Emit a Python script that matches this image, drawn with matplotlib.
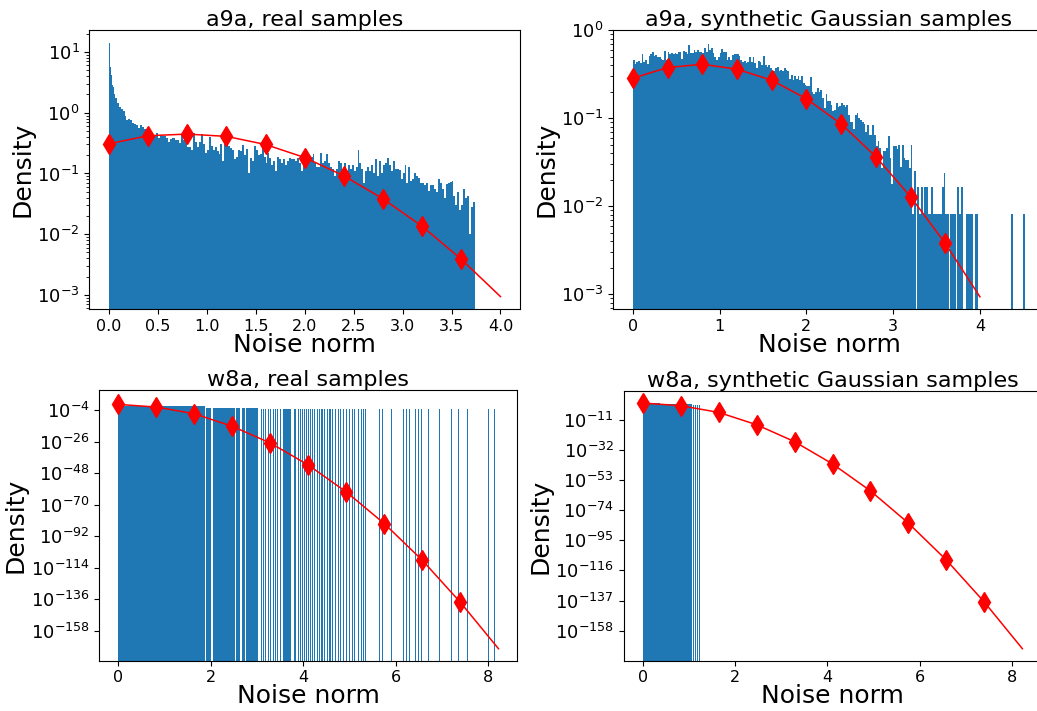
import numpy as np
import matplotlib
matplotlib.use("Agg")
import matplotlib.pyplot as plt
from matplotlib.ticker import NullLocator

# a9a, real samples: histogram (first 6 bins 0.01 wide, then 0.02 wide)
a9a_real_edges = np.concatenate([np.linspace(0.0, 0.05, 6), np.linspace(0.06, 3.74, 185)])
a9a_real_density = [
    14.1, 5.6, 4.2, 2.9, 2.7, 2.0,
    1.75, 1.45, 1.22, 1.14, 1.05, 0.87, 0.77, 0.79, 0.75, 0.68, 0.65, 0.62, 0.56, 0.64,
    0.58, 0.55, 0.52, 0.43, 0.44, 0.43, 0.41, 0.47, 0.38, 0.42, 0.42, 0.42, 0.39, 0.33,
    0.37, 0.38, 0.38, 0.36, 0.35, 0.32, 0.44, 0.36, 0.35, 0.27, 0.27, 0.24, 0.46, 0.33, 0.27,
    0.33, 0.44, 0.30, 0.22, 0.24, 0.40, 0.28, 0.24, 0.27, 0.23, 0.21, 0.30, 0.16, 0.33,
    0.36, 0.28, 0.26, 0.24, 0.17, 0.19, 0.24, 0.23, 0.29, 0.20, 0.25, 0.10, 0.18, 0.16,
    0.28, 0.24, 0.20, 0.21, 0.26, 0.19, 0.15, 0.22, 0.18, 0.14, 0.16, 0.11, 0.19, 0.17,
    0.15, 0.17, 0.14, 0.16, 0.18, 0.17,
    0.17, 0.16, 0.18, 0.15, 0.11, 0.15, 0.17, 0.15, 0.16, 0.19, 0.21, 0.15, 0.13, 0.13,
    0.22, 0.15, 0.16, 0.21, 0.15, 0.13, 0.12, 0.09, 0.12, 0.16, 0.15, 0.12, 0.15, 0.11,
    0.14, 0.12, 0.14, 0.11, 0.13, 0.24, 0.15, 0.12, 0.07, 0.11, 0.13, 0.11, 0.14, 0.10,
    0.17, 0.09, 0.16, 0.10, 0.14,
    0.15, 0.18, 0.14, 0.11, 0.16, 0.12, 0.12, 0.115, 0.08, 0.10, 0.14, 0.07, 0.13, 0.075,
    0.08, 0.10, 0.09, 0.085, 0.07, 0.07, 0.065, 0.07, 0.052, 0.065, 0.065, 0.055, 0.05,
    0.08, 0.07, 0.055, 0.04, 0.068, 0.07, 0.072, 0.075, 0.042, 0.03, 0.05, 0.025, 0.03,
    0.055, 0.04, 0.042, 0.01, 0.028, 0.034,
]

# a9a, synthetic Gaussian samples: histogram, bins 0.02 wide from 0 to 4.52
a9a_syn_edges = np.linspace(0.0, 4.52, 227)
a9a_syn_density = [
    0.46, 0.41, 0.44, 0.45, 0.42, 0.53, 0.43, 0.46, 0.41, 0.51, 0.54, 0.56, 0.51, 0.52,
    0.49, 0.50, 0.47, 0.46, 0.58, 0.46, 0.56, 0.53, 0.55, 0.53, 0.55, 0.53, 0.57, 0.56,
    0.47, 0.58, 0.56, 0.53, 0.68, 0.55, 0.55, 0.59, 0.57, 0.60, 0.57, 0.57, 0.55, 0.62,
    0.56, 0.69, 0.59, 0.62, 0.55, 0.50, 0.46, 0.50, 0.55, 0.61, 0.56, 0.56, 0.46,
    0.49, 0.46, 0.52, 0.53, 0.53, 0.54, 0.51, 0.46, 0.43, 0.45, 0.42, 0.44, 0.49, 0.43,
    0.50, 0.42, 0.37, 0.45, 0.43, 0.40, 0.51, 0.40, 0.38, 0.40, 0.37, 0.34, 0.34, 0.37,
    0.38, 0.34, 0.35, 0.34, 0.37, 0.35, 0.34, 0.28, 0.31, 0.27, 0.30, 0.28, 0.30, 0.27,
    0.30, 0.25, 0.24, 0.23, 0.23, 0.29, 0.20, 0.19, 0.20, 0.22, 0.20, 0.21, 0.17, 0.13, 0.19,
    0.155, 0.155, 0.142, 0.12, 0.125, 0.15, 0.135, 0.137, 0.15, 0.14, 0.135, 0.14, 0.11,
    0.09, 0.09, 0.075, 0.11, 0.115, 0.10, 0.095, 0.09, 0.085, 0.07, 0.083, 0.065, 0.065,
    0.083, 0.065, 0.048, 0.055, 0.046, 0.027, 0.042, 0.042, 0.046, 0.062, 0.035, 0.018,
    0.048, 0.048, 0.045, 0.05, 0.028, 0.05, 0.035, 0.033, 0.033, 0.027, 0.05, 0.0082,
    0.025, 0.0, 0.0166, 0.0082, 0.0166, 0.0082, 0.0166,
    0.0166, 0.0082, 0.0082, 0.0166, 0.0082, 0.0082, 0.0082, 0.0082, 0.0082, 0.0166,
    0.024, 0.0082, 0.0082, 0.0, 0.0082, 0.0082, 0.0082, 0.0, 0.0166, 0.0082, 0.0166,
    0.0, 0.0, 0.0082, 0.0082, 0.0082, 0.0082, 0.0, 0.0082, 0.0082,
    0.0, 0.0, 0.0, 0.0, 0.0, 0.0, 0.0, 0.0, 0.0, 0.0, 0.0, 0.0, 0.0, 0.0, 0.0, 0.0,
    0.0, 0.0, 0.0, 0.0082, 0.0, 0.0, 0.0, 0.0, 0.0, 0.0, 0.0082,
]

# fitted density curves (markers on every point except the last)
a9a_fit_x = [0.0, 0.4, 0.8, 1.2, 1.6, 2.0, 2.4, 2.8, 3.2, 3.6, 4.0]
a9a_real_fit_y = [0.308, 0.418, 0.445, 0.408, 0.30, 0.183, 0.0916, 0.0382, 0.0135, 0.00387, 0.00094]
a9a_syn_fit_y = [0.285, 0.376, 0.41, 0.36, 0.27, 0.166, 0.086, 0.0365, 0.0128, 0.00377, 0.00093]

w8a_fit_x = [0.0, 0.822, 1.644, 2.466, 3.288, 4.11, 4.932, 5.754, 6.576, 7.398, 8.22]
w8a_real_fit_log10 = [-0.05, -1.9, -6.56, -15.4, -27.0, -42.4, -61.2, -83.3, -108.9, -138.2, -170.5]
w8a_syn_fit_log10 = [0.59, -1.26, -5.9, -14.5, -26.3, -41.8, -60.6, -83.1, -108.8, -138.1, -170.5]

# w8a, real samples: filled stretches of the histogram and single-count bins
w8a_real_seg_start = [0.0, 1.90, 2.04, 2.55, 2.67, 2.77, 3.56]
w8a_real_seg_end = [1.874, 2.01, 2.52, 2.63, 2.74, 3.03, 3.74]
w8a_real_seg_density = [0.1, 3e-3, 3e-3, 3e-3, 3e-3, 3e-3, 5e-4]
w8a_real_single_x = [
    3.09, 3.14, 3.19, 3.25, 3.29, 3.35, 3.40, 3.45, 3.50, 3.80, 3.84, 3.89, 3.94, 3.98,
    4.02, 4.06, 4.11, 4.15, 4.195, 4.245, 4.303, 4.346, 4.404, 4.461, 4.519, 4.577,
    4.634, 4.692, 4.757, 4.807, 4.865, 4.937, 5.009, 5.067, 5.117, 5.189, 5.261, 5.297,
    5.355, 5.658, 5.708, 5.910, 6.177, 6.234, 6.292, 6.436, 6.494, 6.566, 6.717, 6.955,
    7.207, 7.359, 7.560, 8.007, 8.130,
]
w8a_real_single_density = 5e-4

# w8a, synthetic Gaussian samples: filled stretches of the histogram
w8a_syn_seg_start = [0.0, 0.38, 1.09, 1.125, 1.18, 1.225]
w8a_syn_seg_end = [0.38, 1.068, 1.11, 1.16, 1.205, 1.25]
w8a_syn_seg_density = [3.0, 0.7, 0.1, 0.1, 0.1, 0.1]

blue = "#1f77b4"


def draw_fit(ax, x, y):
    ax.plot(x, y, color="red", lw=1.1, marker="d", ms=10, markevery=slice(0, len(x) - 1))


def labels(ax, title):
    ax.set_title(title, fontsize=16, pad=3)
    ax.set_xlabel("Noise norm", fontsize=18, labelpad=-1)
    ax.set_ylabel("Density", fontsize=18, labelpad=2)
    ax.tick_params(axis="x", labelsize=11.5)
    ax.tick_params(axis="y", labelsize=13)


fig = plt.figure(figsize=(10.37, 7.11), dpi=100)

ax = fig.add_axes([0.0861, 0.5650, 0.4154, 0.3928])
ax.set_yscale("log")
ax.bar(a9a_real_edges[:-1], a9a_real_density, width=np.diff(a9a_real_edges),
       align="edge", color=blue, linewidth=0)
draw_fit(ax, a9a_fit_x, a9a_real_fit_y)
ax.set_xlim(-0.2, 4.2)
ax.set_xticks(np.arange(0, 4.01, 0.5))
ax.set_ylim(10 ** -3.236, 10 ** 1.362)
labels(ax, "a9a, real samples")

ax = fig.add_axes([0.5914, 0.5650, 0.4160, 0.3928])
ax.set_yscale("log")
ax.bar(a9a_syn_edges[:-1], a9a_syn_density, width=np.diff(a9a_syn_edges),
       align="edge", color=blue, linewidth=0)
draw_fit(ax, a9a_fit_x, a9a_syn_fit_y)
ax.set_xlim(-0.226, 4.746)
ax.set_xticks([0, 1, 2, 3, 4])
ax.set_ylim(10 ** -3.173, 10 ** 0.002)
labels(ax, "a9a, synthetic Gaussian samples")

ax = fig.add_axes([0.0958, 0.0707, 0.4032, 0.3807])
ax.set_yscale("log")
ax.bar(w8a_real_seg_start, w8a_real_seg_density,
       width=np.array(w8a_real_seg_end) - np.array(w8a_real_seg_start),
       align="edge", color=blue, linewidth=0)
ax.bar(w8a_real_single_x, w8a_real_single_density, width=0.022, color=blue, linewidth=0)
draw_fit(ax, w8a_fit_x, 10.0 ** np.array(w8a_real_fit_log10))
ax.set_xlim(-0.411, 8.631)
ax.set_xticks([0, 2, 4, 6, 8])
ax.set_ylim(10.0 ** -178.9, 10.0 ** 9.96)
ax.set_yticks([10.0 ** e for e in range(-4, -159, -22)])
ax.yaxis.set_minor_locator(NullLocator())
labels(ax, "w8a, real samples")

ax = fig.add_axes([0.6014, 0.0707, 0.4028, 0.3793])
ax.set_yscale("log")
ax.bar(w8a_syn_seg_start, w8a_syn_seg_density,
       width=np.array(w8a_syn_seg_end) - np.array(w8a_syn_seg_start),
       align="edge", color=blue, linewidth=0)
draw_fit(ax, w8a_fit_x, 10.0 ** np.array(w8a_syn_fit_log10))
ax.set_xlim(-0.411, 8.631)
ax.set_xticks([0, 2, 4, 6, 8])
ax.set_ylim(10.0 ** -178.9, 10.0 ** 8.94)
ax.set_yticks([10.0 ** e for e in range(-11, -159, -21)])
ax.yaxis.set_minor_locator(NullLocator())
labels(ax, "w8a, synthetic Gaussian samples")

fig.savefig("out.png", dpi=100)
